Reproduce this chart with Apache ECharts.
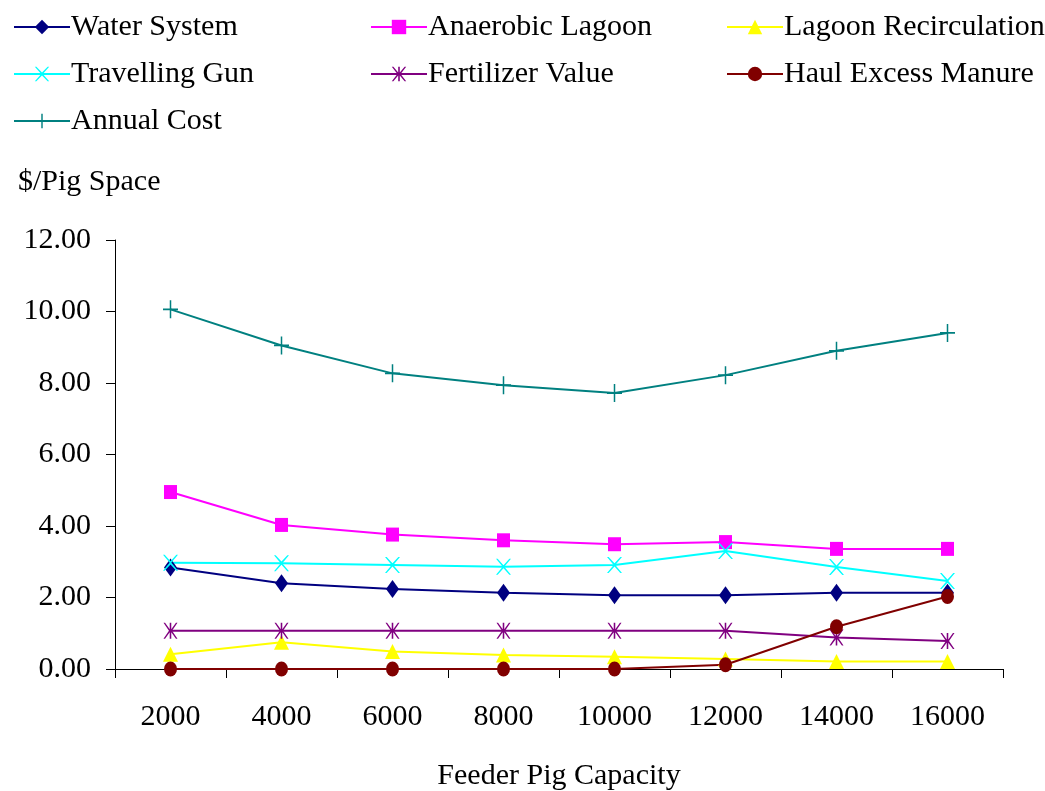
<!DOCTYPE html>
<html>
<head>
<meta charset="utf-8">
<script src="https://cdn.jsdelivr.net/npm/echarts@6/dist/echarts.min.js"></script>
<style>html,body{margin:0;padding:0;background:#fff;}#c{width:1045px;height:791px;}</style>
</head>
<body>
<div id="c"></div>
<script>
const categories = ['2000','4000','6000','8000','10000','12000','14000','16000'];
const waterSystem = [2.84, 2.40, 2.24, 2.13, 2.06, 2.06, 2.13, 2.13];
const anaerobicLagoon = [4.95, 4.03, 3.76, 3.60, 3.49, 3.55, 3.36, 3.36];
const lagoonRecirculation = [0.41, 0.75, 0.49, 0.39, 0.34, 0.28, 0.21, 0.21];
const travellingGun = [2.97, 2.96, 2.91, 2.86, 2.91, 3.30, 2.85, 2.46];
const fertilizerValue = [1.07, 1.07, 1.07, 1.07, 1.07, 1.07, 0.88, 0.78];
const haulExcessManure = [0, 0, 0, 0, 0, 0.12, 1.18, 2.03];
const annualCost = [10.06, 9.05, 8.27, 7.94, 7.72, 8.22, 8.90, 9.40];
const yTicks = {min: 0, max: 12, interval: 2};

const FONT = 'Liberation Serif';
const FS = 30;
const xPath = 'path://M-9,-10L-7,-10L0,-2L7,-10L9,-10L1,0L9,10L7,10L0,2L-7,10L-9,10L-1,0Z';
const astPath = 'path://M-1,-10L1,-10L1,-2L7,-10L9,-10L2,0L9,10L7,10L1,2L1,10L-1,10L-1,2L-7,10L-9,10L-2,0L-9,-10L-7,-10L-1,-2Z';
const plusPath = 'path://M-1,-10L1,-10L1,-1L10,-1L10,1L1,1L1,10L-1,10L-1,1L-10,1L-10,-1L-1,-1Z';

function mk(name, data, color, symbol, size) {
  return {
    name: name, type: 'line', data: data,
    symbol: symbol, symbolSize: size, showSymbol: true,
    lineStyle: {color: color, width: 2},
    itemStyle: {color: color},
    emphasis: {disabled: true},
    animation: false, z: 3
  };
}

const series = [
  mk('Water System', waterSystem, '#000080', 'diamond', [13, 18]),
  mk('Anaerobic Lagoon', anaerobicLagoon, '#FF00FF', 'rect', [13, 14]),
  mk('Lagoon Recirculation', lagoonRecirculation, '#FFFF00', 'triangle', [15, 15]),
  mk('Travelling Gun', travellingGun, '#00FFFF', xPath, [15, 16]),
  mk('Fertilizer Value', fertilizerValue, '#800080', astPath, [14, 16]),
  mk('Haul Excess Manure', haulExcessManure, '#800000', 'circle', [13, 15]),
  mk('Annual Cost', annualCost, '#008080', plusPath, [15, 18])
];

const legendBase = {
  orient: 'vertical', itemWidth: 56, itemHeight: 18, itemGap: 17,
  textStyle: {fontFamily: FONT, fontSize: FS, color: '#000', padding: [0,0,0,-4]},
  selectedMode: false
};

const option = {
  backgroundColor: '#fff',
  animation: false,
  textStyle: {fontFamily: FONT},
  legend: [
    Object.assign({}, legendBase, {left: 8, top: 7, data: ['Water System', 'Travelling Gun', 'Annual Cost']}),
    Object.assign({}, legendBase, {left: 365, top: 7, data: ['Anaerobic Lagoon', 'Fertilizer Value']}),
    Object.assign({}, legendBase, {left: 721, top: 7, data: ['Lagoon Recirculation', 'Haul Excess Manure']})
  ],
  graphic: [{
    type: 'text', left: 18, top: 167,
    style: {text: '$/Pig Space', fontFamily: FONT, fontSize: FS, fill: '#000'}
  }],
  grid: {left: 115, right: 42, top: 240, bottom: 122, containLabel: false, outerBoundsMode: 'none'},
  xAxis: {
    type: 'category', data: categories, boundaryGap: true,
    axisLine: {show: true, lineStyle: {color: '#000', width: 1}},
    axisTick: {show: true, length: 9, alignWithLabel: false, lineStyle: {color: '#000'}},
    axisLabel: {fontFamily: FONT, fontSize: FS, color: '#000', margin: 33, interval: 0},
    splitLine: {show: false},
    name: 'Feeder Pig Capacity', nameLocation: 'middle', nameGap: 92,
    nameTextStyle: {fontFamily: FONT, fontSize: FS, color: '#000'}
  },
  yAxis: {
    type: 'value', min: yTicks.min, max: yTicks.max, interval: yTicks.interval,
    axisLine: {show: true, lineStyle: {color: '#000', width: 1}},
    axisTick: {show: true, length: 9, lineStyle: {color: '#000'}},
    axisLabel: {fontFamily: FONT, fontSize: FS, color: '#000', margin: 24,
      formatter: v => v.toFixed(2)},
    splitLine: {show: false}
  },
  series: series
};

const chart = echarts.init(document.getElementById('c'), null, {renderer: 'canvas'});
chart.setOption(option);
</script>
</body>
</html>
